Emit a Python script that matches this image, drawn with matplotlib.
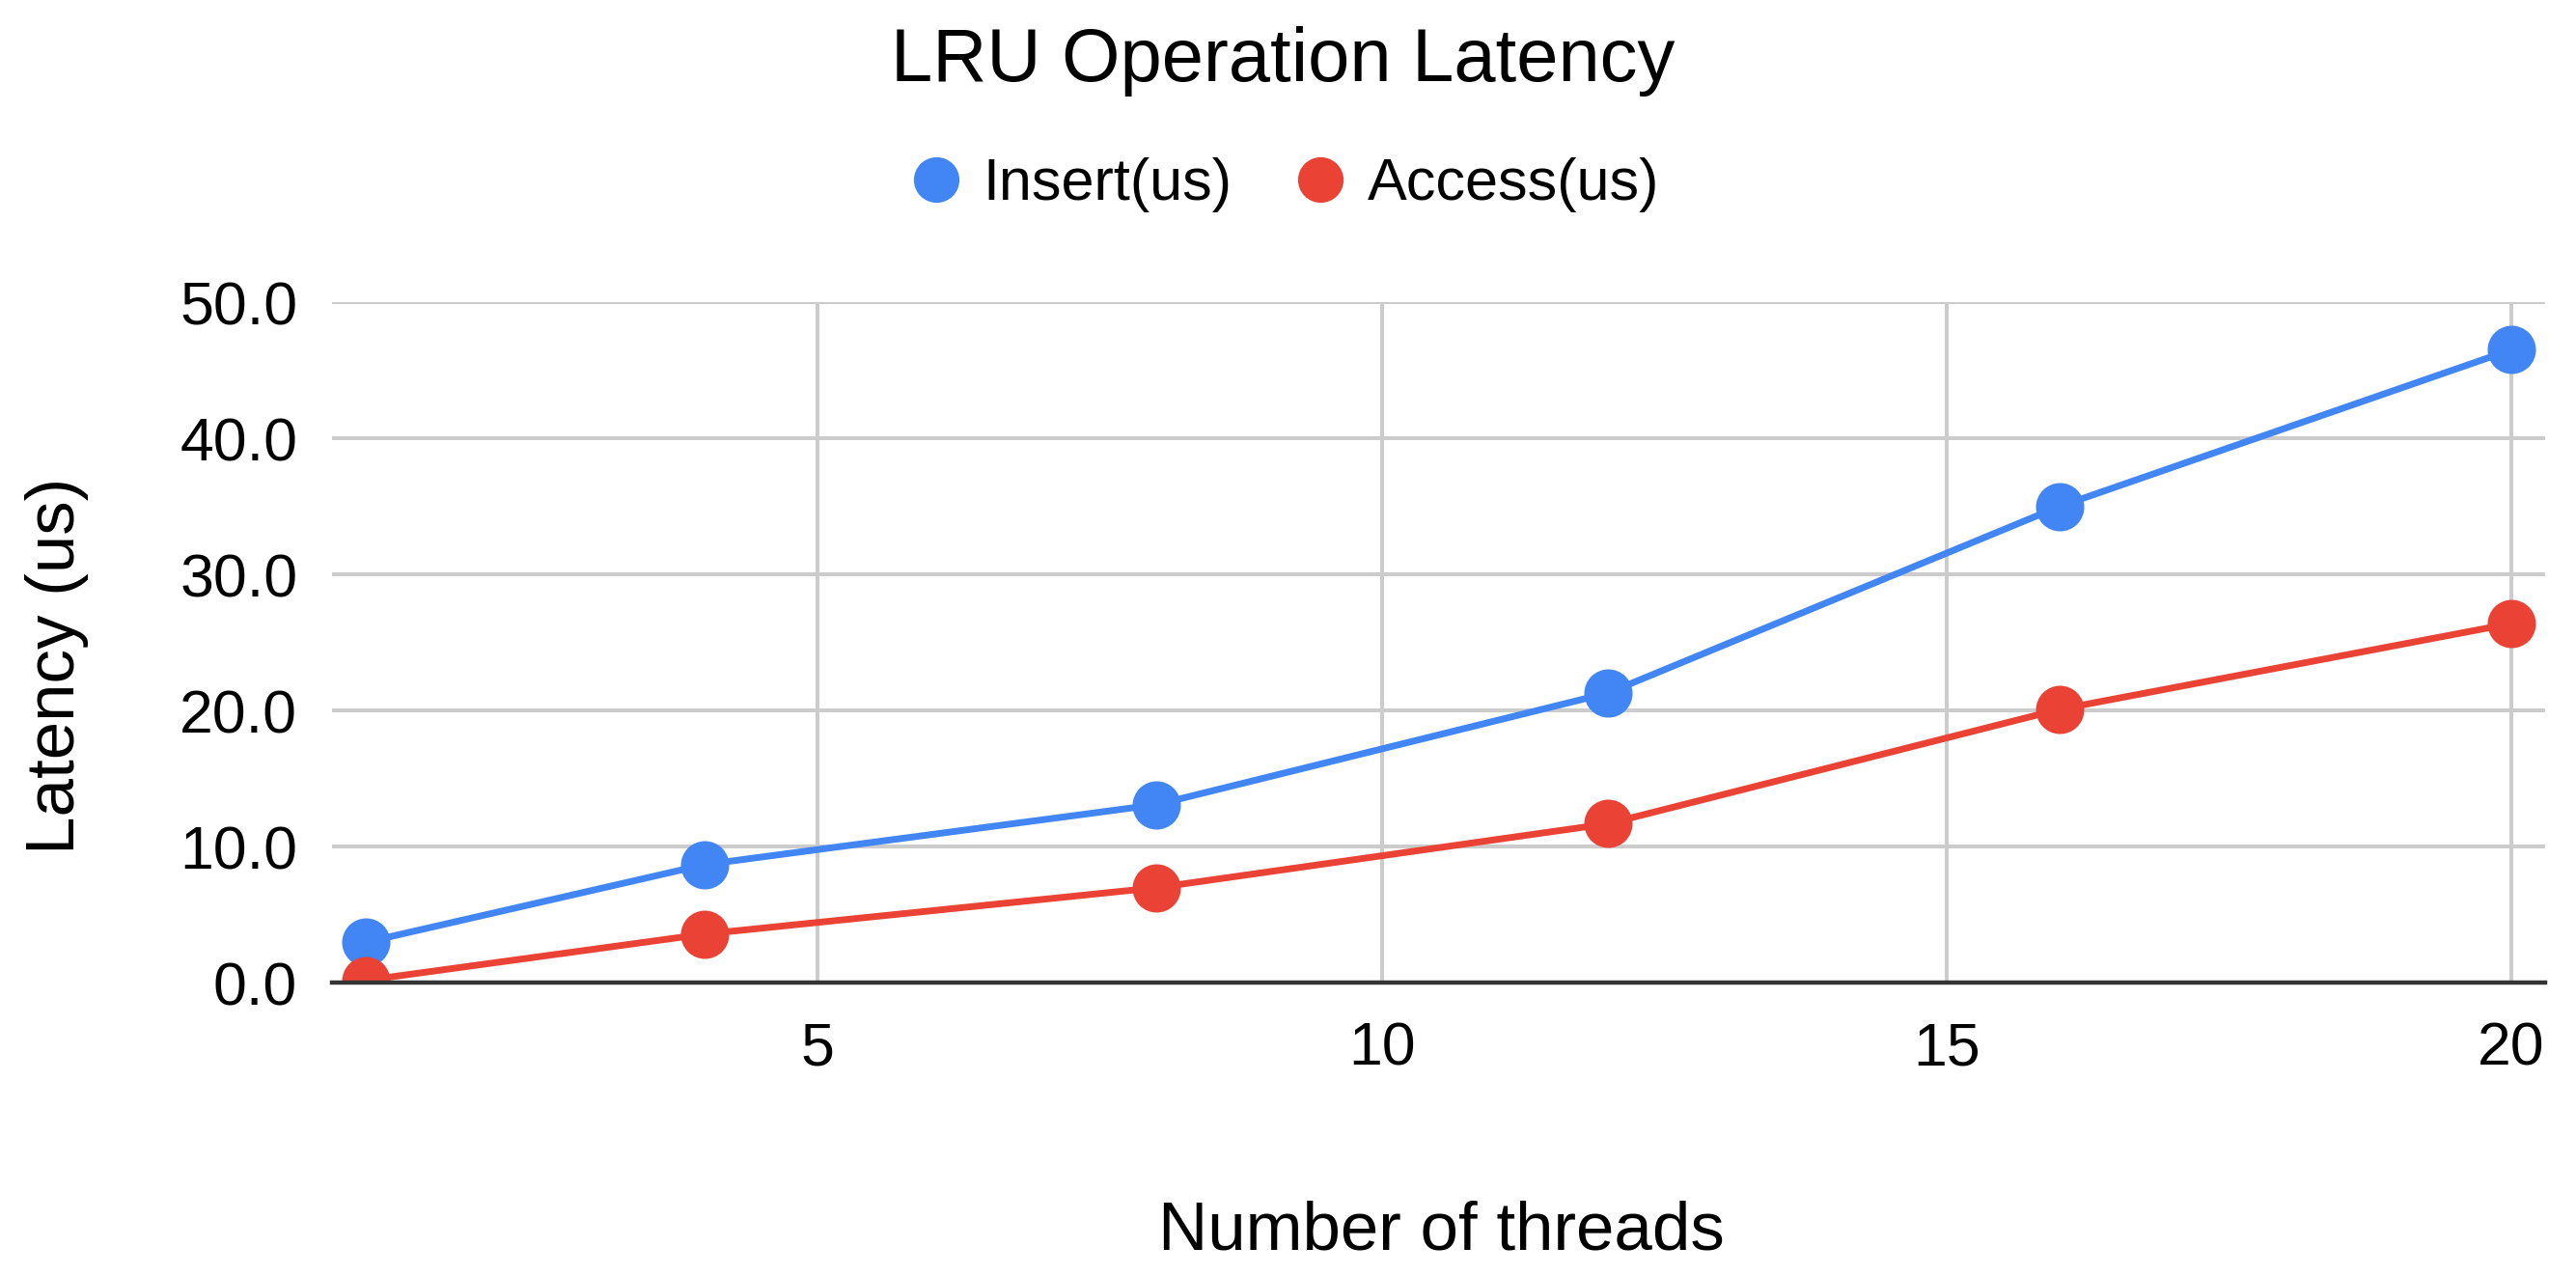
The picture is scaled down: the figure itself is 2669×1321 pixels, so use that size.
import matplotlib.pyplot as plt
from matplotlib.lines import Line2D

plt.rcParams['font.family'] = ['Liberation Sans', 'DejaVu Sans']

# Data
threads = [1, 4, 8, 12, 16, 20]
insert_us = [3.0, 8.7, 13.1, 21.3, 35.0, 46.5]
access_us = [0.2, 3.6, 7.0, 11.7, 20.1, 26.4]
series_names = ['Insert(us)', 'Access(us)']
y_ticks = [0, 10, 20, 30, 40, 50]
x_ticks = [5, 10, 15, 20]

BLUE = '#4285F4'
RED = '#EA4335'
GRID = '#cccccc'

fig = plt.figure(figsize=(13.345, 6.605), dpi=200)
ax = fig.add_axes([0.129, 0.229, 0.988 - 0.129, 0.763 - 0.229])

ax.plot(threads, insert_us, color=BLUE, lw=2.5, marker='o', ms=17, zorder=3)
ax.plot(threads, access_us, color=RED, lw=2.5, marker='o', ms=17, zorder=3)

ax.set_xlim(0.7, 20.3)
ax.set_ylim(0, 50)
ax.set_xticks(x_ticks)
ax.set_yticks(y_ticks)
ax.set_yticklabels([f"{v:.1f}" for v in y_ticks])
ax.tick_params(axis='both', length=0, labelsize=22.5, colors='#000000')
ax.tick_params(axis='x', pad=14)
ax.tick_params(axis='y', pad=13)

ax.grid(True, color=GRID, lw=1.45, zorder=0)
ax.set_axisbelow(True)
for side in ['top', 'right', 'left']:
    ax.spines[side].set_visible(False)
ax.spines['bottom'].set_color('#333333')
ax.spines['bottom'].set_linewidth(1.6)
ax.spines['bottom'].set_zorder(4)

# axis titles placed in figure coords to match the reference layout
fig.text(0.5595, 0.034, 'Number of threads', fontsize=25.5,
         ha='center', va='center')
fig.text(0.022, 0.478, 'Latency (us)', fontsize=25.5, rotation=90,
         ha='center', va='center')

fig.text(0.498, 0.952, 'LRU Operation Latency', fontsize=28,
         ha='center', va='center')

handles = [Line2D([], [], ls='', marker='o', ms=16, color=BLUE),
           Line2D([], [], ls='', marker='o', ms=16, color=RED)]
fig.legend(handles, series_names, loc='center', bbox_to_anchor=(0.498, 0.855),
           ncol=2, frameon=False, fontsize=22, handletextpad=0.3,
           columnspacing=1.0, handlelength=1.0)

fig.savefig('out.png', dpi=200, facecolor='white')
